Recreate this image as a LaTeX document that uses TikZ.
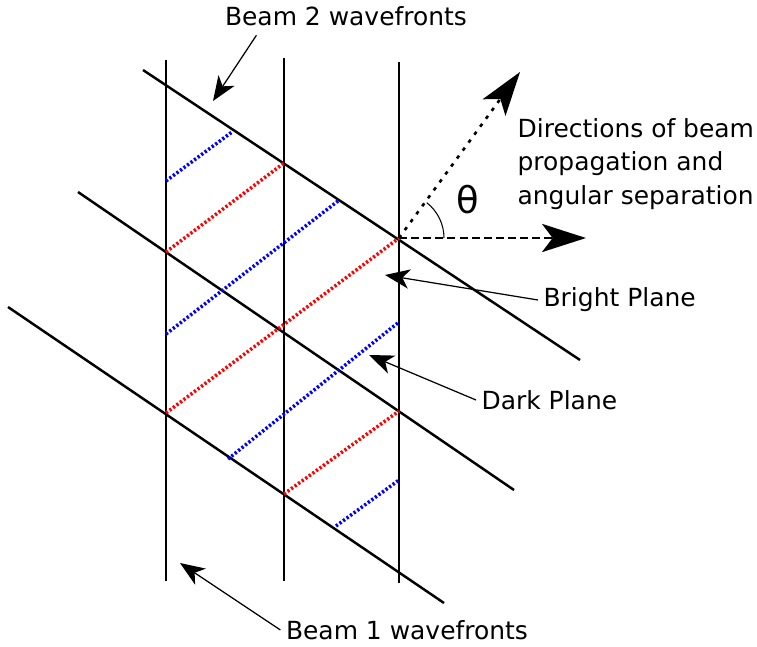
\documentclass[tikz,border=0pt]{standalone}
\usepackage{fontspec}
\setmainfont{DejaVu Sans}
\usepackage{xcolor}
\usetikzlibrary{arrows.meta,calc}
\definecolor{planered}{RGB}{255,0,0}
\definecolor{planeblue}{RGB}{0,0,255}
\tikzset{
  wavefront/.style={
    line width=1.4pt,
    draw=black
  },
  brightplane/.style={
    line width=2pt,
    draw=planered,
    dash pattern=on 1.3pt off 1.2pt
  },
  darkplane/.style={
    line width=2pt,
    draw=planeblue,
    dash pattern=on 1.3pt off 1.2pt
  },
  labeltext/.style={
    inner sep=3pt,
    font=\fontsize{14.2}{19}\selectfont
  },
  pointer/.style={
    -{Stealth[length=14pt,width=11pt,inset=4pt]},
    line width=0.7pt,
    draw=black
  },
  propagation/.style={
    -{Stealth[length=25pt,width=16pt,inset=6pt]},
    line width=1.5pt,
    draw=black
  }
}

\begin{document}
\begin{tikzpicture}[x=0.02cm,y=-0.02cm]
\useasboundingbox (0,0) rectangle (757,646);

% beam 1 and beam 2 wavefronts
\draw[wavefront] (166,60) -- (166,581);
\draw[wavefront] (284,58) -- (284,581);
\draw[wavefront] (399,62) -- (399,583);
\draw[wavefront] (143,70) -- (580,360);
\draw[wavefront] (78,192) -- (514,490);
\draw[wavefront] (8,307) -- (444,603);

% bright and dark planes
\draw[brightplane] (166,252) -- (284,163);
\draw[brightplane] (166,413) -- (399,238);
\draw[brightplane] (284,494) -- (399,411);
\draw[darkplane] (166,181) -- (232,132);
\draw[darkplane] (166,334) -- (338,201);
\draw[darkplane] (228,459) -- (399,322);
\draw[darkplane] (336,526) -- (399,480);

% propagation directions
\coordinate (origin) at (399,238);
\coordinate (beamtwodir) at (520,72);
\coordinate (beamonedir) at (586,238);
\draw[propagation, dash pattern=on 2pt off 3.6pt] (origin) -- (beamtwodir);
\draw[propagation, dash pattern=on 4.5pt off 2.4pt] (origin) -- (beamonedir);
\draw[line width=0.6pt] (origin) ++(45,0) arc[start angle=0, end angle=52, radius=25.5pt];
\node[font=\fontsize{21}{24}\selectfont] (theta) at (468,200) {θ};

% labels
\node[labeltext] (lbltwo) at (346,16) {Beam 2 wavefronts};
\node[labeltext] (lblone) at (407,630) {Beam 1 wavefronts};
\node[labeltext, anchor=west] (lblbright) at (538,300) {Bright Plane};
\node[labeltext, anchor=west] (lbldark) at (476,400) {Dark Plane};
\node[labeltext, anchor=west, align=left] (lbldir) at (512,164) {Directions of beam\\propagation and\\angular separation};

\coordinate (twotip) at (213,101);
\coordinate (onetip) at (180,563);
\coordinate (brighttip) at (385,275);
\coordinate (darktip) at (369,355);
\draw[pointer] ($(lbltwo.south west)+(37,4)$) -- (twotip);
\draw[pointer] (lblone.west) -- (onetip);
\draw[pointer] (lblbright.west) -- (brighttip);
\draw[pointer] (lbldark.west) -- (darktip);
\end{tikzpicture}
\end{document}
